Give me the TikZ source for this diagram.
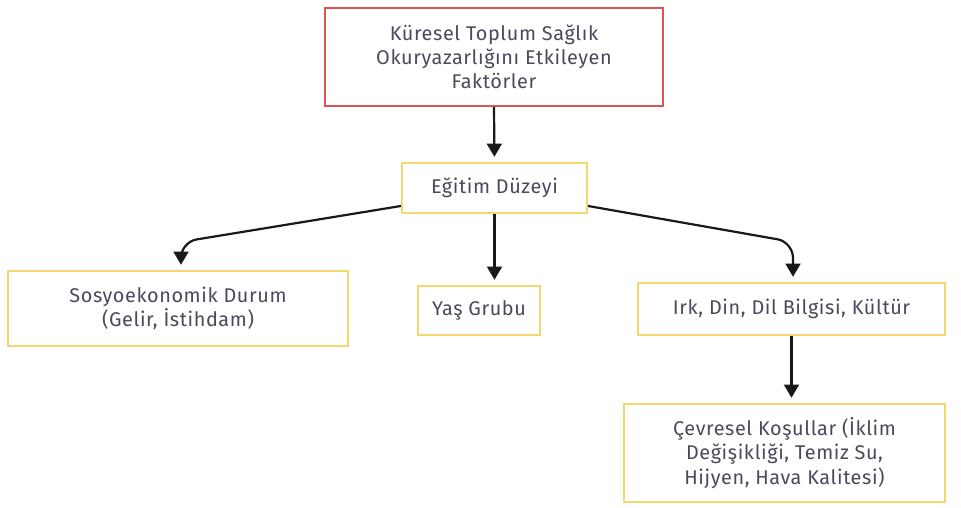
\documentclass[tikz,border=0pt]{standalone}
\usepackage{fontspec}
\setmainfont[LetterSpace=3]{Fira Sans}
\usetikzlibrary{arrows.meta}

\definecolor{boxred}{HTML}{D95550}
\definecolor{boxyellow}{HTML}{F4D86E}
\definecolor{txtgrey}{HTML}{4A4A5C}

\tikzset{
  box/.style={draw=boxyellow, line width=1.1pt, fill=white, align=center,
    text=txtgrey, font=\fontsize{11.3}{13.8}\selectfont, inner sep=0pt},
  topbox/.style={box, draw=boxred},
  arr/.style={draw=black!90, line width=1.25pt, rounded corners=9pt,
    -{Triangle[width=8.5pt,length=7.5pt]}, shorten >=3pt}
}

\begin{document}
\begin{tikzpicture}
  \useasboundingbox (0,0) rectangle (19.22,-10.16);
  %
  \node[topbox, minimum width=6.76cm, minimum height=1.96cm] (fak) at (9.88,-1.14)
    {Küresel Toplum Sağlık\\Okuryazarlığını Etkileyen\\Faktörler};
  \node[box, minimum width=3.7cm, minimum height=1cm] (egi) at (9.89,-3.76)
    {Eğitim Düzeyi};
  %
  \node[box, minimum width=6.8cm, minimum height=1.5cm] (sos) at (3.56,-6.17)
    {Sosyoekonomik Durum\\(Gelir, İstihdam)};
  \node[box, minimum width=2.44cm, minimum height=0.98cm] (yas) at (9.58,-6.21)
    {Yaş Grubu};
  \node[box, minimum width=6.14cm, minimum height=1.04cm] (irk) at (15.83,-6.18)
    {Irk, Din, Dil Bilgisi, Kültür};
  %
  \node[box, minimum width=6.42cm, minimum height=1.96cm] (cev) at (15.69,-9.06)
    {Çevresel Koşullar (İklim\\Değişikliği, Temiz Su,\\Hijyen, Hava Kalitesi)};
  %
  \coordinate (bendl) at (3.62,-4.84);
  \coordinate (bendr) at (15.86,-4.84);
  %
  \draw[arr] (fak.south) -- (egi.north);
  \draw[arr] ([yshift=0.16cm]egi.south west) -- (bendl) -- (bendl |- sos.north);
  \draw[arr] (egi.south) -- (egi.south |- yas.north);
  \draw[arr] ([yshift=0.16cm]egi.south east) -- (bendr) -- (bendr |- irk.north);
  \draw[arr] (irk.south) -- (irk.south |- cev.north);
  %
\end{tikzpicture}
\end{document}
